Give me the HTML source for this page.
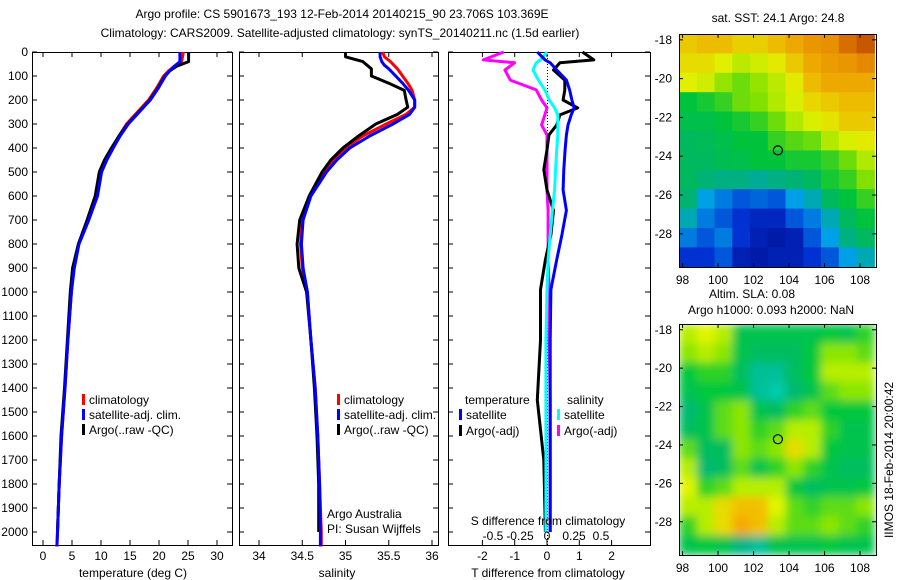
<!DOCTYPE html>
<html><head><meta charset="utf-8"><style>
body{margin:0;background:#fff}
svg{display:block;font-family:"Liberation Sans",sans-serif;font-size:12px}
</style></head><body>
<svg id="c" width="900" height="580" viewBox="0 0 900 580"></svg>
<script>
// ---- data ----
const depthTicks=[0,100,200,300,400,500,600,700,800,900,1000,1100,1200,1300,1400,1500,1600,1700,1800,1900,2000];
const tempTicks=[0,5,10,15,20,25,30];
const salTicks=[34,34.5,35,35.5,36];
const tdiffTicks=[-2,-1,0,1,2];
const sdiffTicks=[-0.5,-0.25,0,0.25,0.5];
const tDepth=[0,40,60,80,100,150,200,250,300,350,400,450,500,600,700,800,900,1000,1200,1400,1600,1800,2000,2060];
const tClim=[24.2,23.9,22.6,21.6,20.8,19.6,18.2,16.3,14.4,13.1,11.9,10.8,9.9,9.2,7.8,6.1,5.3,4.9,4.3,3.8,3.2,2.8,2.5,2.4];
const tSat=[23.6,23.6,22.6,21.8,21.1,19.9,18.5,16.6,14.7,13.3,12.1,11,10.1,9.4,7.9,6.2,5.4,4.9,4.3,3.8,3.2,2.8,2.5,2.4];
const tArgo=[25.1,25.1,23,21.8,21,19.8,18.4,16.5,14.6,13.1,11.8,10.6,9.7,9,7.6,6.1,5.1,4.7,4.2,3.7,3.1,2.8,2.5];
const sDepth=[0,20,40,55,70,100,130,160,200,230,260,300,350,400,450,500,600,700,800,900,1000,1200,1400,1600,1800,2000,2060];
const sClim=[35.43,35.45,35.52,35.56,35.6,35.66,35.72,35.77,35.8,35.8,35.7,35.47,35.2,35.0,34.86,34.75,34.58,34.5,34.48,34.5,34.56,34.6,34.65,34.68,34.7,34.72,34.72];
const sSat=[35.4,35.4,35.42,35.45,35.5,35.58,35.66,35.73,35.8,35.8,35.74,35.55,35.28,35.05,34.9,34.78,34.6,34.51,34.49,34.51,34.56,34.6,34.65,34.68,34.7,34.71,34.71];
const sArgo=[35.0,35.0,35.2,35.25,35.3,35.3,35.5,35.68,35.7,35.72,35.6,35.35,35.15,34.97,34.83,34.73,34.58,34.47,34.44,34.46,34.55,34.6,34.64,34.67,34.69,34.69];
const dDepth=[0,33,45,75,117,158,200,233,262,304,346,408,490,575,660,762,866,990,1200,1450,1700,2000];
const dTsat=[-0.3,-0.06,0.1,0.3,0.6,0.7,0.77,0.84,0.75,0.65,0.6,0.56,0.52,0.5,0.6,0.46,0.3,0.12,0.1,0.1,0.1,0.1];
const dTargo=[1.1,1.45,0.4,0.2,0.55,0.55,0.5,0.95,0.4,0.3,0.06,0,-0.1,0,0.2,0.12,-0.05,-0.2,-0.2,-0.3,-0.1,-0.05];
const dSsat=[0,-0.06,-0.1,-0.13,-0.08,-0.02,0.02,0.07,0.1,0.1,0.1,0.09,0.08,0.07,0.05,0.03,0.01,0,-0.01,-0.01,-0.01,-0.01];
const dSargo=[-0.4,-0.59,-0.3,-0.39,-0.34,-0.1,-0.05,0,-0.02,-0.05,0,0,0,0,0.01,0.01,0.01,0.02,0.02,0.03,0.03,0.03];
const sstGrid=[
[0.78,0.8,0.8,0.77,0.77,0.8,0.83,0.86,0.87,0.92,0.95],
[0.75,0.75,0.72,0.68,0.7,0.73,0.78,0.83,0.85,0.86,0.88],
[0.72,0.7,0.64,0.6,0.64,0.68,0.73,0.8,0.83,0.83,0.83],
[0.5,0.52,0.55,0.6,0.62,0.67,0.71,0.76,0.78,0.8,0.8],
[0.48,0.48,0.5,0.52,0.55,0.6,0.67,0.71,0.74,0.78,0.78],
[0.45,0.46,0.48,0.5,0.5,0.55,0.58,0.6,0.67,0.71,0.73],
[0.45,0.45,0.47,0.48,0.5,0.5,0.52,0.52,0.55,0.6,0.67],
[0.45,0.42,0.4,0.4,0.38,0.4,0.42,0.45,0.52,0.55,0.62],
[0.42,0.3,0.25,0.2,0.22,0.2,0.3,0.35,0.45,0.5,0.55],
[0.35,0.25,0.2,0.15,0.12,0.12,0.2,0.25,0.35,0.45,0.5],
[0.25,0.2,0.25,0.15,0.1,0.08,0.1,0.2,0.3,0.4,0.45],
[0.15,0.15,0.2,0.1,0.08,0.1,0.1,0.15,0.2,0.3,0.35]];
const slaGrid=[
[0.6,0.65,0.6,0.35,0.35,0.35,0.35,0.35,0.4,0.35,0.45],
[0.55,0.6,0.55,0.35,0.3,0.3,0.3,0.4,0.55,0.55,0.5],
[0.4,0.45,0.45,0.3,0.15,0.15,0.3,0.4,0.6,0.6,0.6],
[0.35,0.4,0.4,0.35,0.15,0.1,0.25,0.35,0.5,0.55,0.55],
[0.25,0.35,0.5,0.55,0.35,0.3,0.45,0.5,0.4,0.4,0.4],
[0.3,0.35,0.5,0.55,0.45,0.5,0.6,0.6,0.45,0.35,0.35],
[0.5,0.3,0.3,0.55,0.5,0.55,0.7,0.6,0.4,0.35,0.35],
[0.6,0.25,0.3,0.5,0.35,0.45,0.55,0.45,0.35,0.3,0.3],
[0.65,0.45,0.5,0.6,0.6,0.6,0.4,0.3,0.35,0.35,0.4],
[0.6,0.6,0.7,0.75,0.75,0.65,0.5,0.45,0.5,0.5,0.55],
[0.45,0.6,0.7,0.8,0.75,0.6,0.5,0.5,0.55,0.5,0.45],
[0.35,0.4,0.35,0.2,0.15,0.35,0.35,0.35,0.4,0.35,0.35]];
const lonTicks=[98,100,102,104,106,108];
const latTicks=[-18,-20,-22,-24,-26,-28];
const argoLon=103.37, argoLat=-23.7;

// ---- scales ----
const yD=d=>52+d*0.24;
const xT=t=>43+t*5.8;
const xS=s=>259+(s-34)*86.5;
const xDT=t=>547+t*32.3;
const xDS=s=>547+s*108;
const xLon=l=>679+(l-97.8)*17.75;
const yLat1=l=>34+(-17.7-l)*19.4;
const yLat2=l=>324+(-17.7-l)*19.2;

const svg=document.getElementById('c');
const NS='http://www.w3.org/2000/svg';
function el(tag,attrs,parent){const e=document.createElementNS(NS,tag);for(const k in attrs)e.setAttribute(k,attrs[k]);(parent||svg).appendChild(e);return e;}
function txt(x,y,s,anchor,parent){const t=el('text',{x:x,y:y,'text-anchor':anchor||'start'},parent);t.textContent=s;return t;}

// titles
let t=txt(342,18,'Argo profile: CS 5901673_193 12-Feb-2014 20140215_90 23.706S 103.369E','middle');


t=txt(340,37,'Climatology: CARS2009. Satellite-adjusted climatology: synTS_20140211.nc (1.5d earlier)','middle');



function panel(x0,x1,name,ticks,fx){
  const g=el('g',{});
  
  
  el('rect',{x:x0+0.5,y:52.5,width:x1-x0,height:493,fill:'none',stroke:'#000','stroke-width':1},g);
  depthTicks.forEach(d=>{const y=yD(d);el('line',{x1:x0,x2:x0+5,y1:y,y2:y,stroke:'#000'},g);el('line',{x1:x1-5,x2:x1,y1:y,y2:y,stroke:'#000'},g);});
  ticks.forEach(v=>{const x=fx(v);el('line',{x1:x,x2:x,y1:52,y2:57,stroke:'#000'},g);el('line',{x1:x,x2:x,y1:540,y2:545,stroke:'#000'},g);});
  return g;
}
function prof(g,vals,depths,fx,color,name,w){
  let d='';vals.forEach((v,i)=>{d+=(i?'L':'M')+fx(v).toFixed(1)+','+yD(depths[i]).toFixed(1);});
  const p=el('path',{d:d,fill:'none',stroke:color,'stroke-width':w||3,'stroke-linejoin':'round'},g);
  
  
}
// depth labels
const dl=el('g',{});


depthTicks.forEach(d=>txt(28,yD(d)+4,String(d),'end',dl));

// panel 1 temperature
const g1=panel(32,232,'temperature-panel',tempTicks,xT);
prof(g1,tClim,tDepth,xT,'#f00','temp-climatology-line');
prof(g1,tArgo,tDepth,xT,'#000','temp-argo-line');
prof(g1,tSat,tDepth,xT,'#00f','temp-satellite-line');
tempTicks.forEach(v=>txt(xT(v),560,String(v),'middle',g1));
txt(133,577,'temperature (deg C)','middle',g1);
function leg(g,x,y,color,label,nm){
  const r=el('rect',{x:x,y:y-10,width:3,height:11,fill:color},g);
  
  
  txt(x+7,y,label,'start',g);
}
leg(g1,82,404,'#f00','climatology','legend-climatology');
leg(g1,82,419,'#00f','satellite-adj. clim.','legend-satellite');
leg(g1,82,434,'#000','Argo(..raw -QC)','legend-argo');

// panel 2 salinity
const g2=panel(239,438,'salinity-panel',salTicks,xS);
prof(g2,sClim,sDepth,xS,'#f00','sal-climatology-line');
prof(g2,sArgo,sDepth,xS,'#000','sal-argo-line');
prof(g2,sSat,sDepth,xS,'#00f','sal-satellite-line');
salTicks.forEach(v=>txt(xS(v),560,String(v),'middle',g2));
txt(337,577,'salinity','middle',g2);
leg(g2,337,404,'#f00','climatology','legend2-climatology');
leg(g2,337,419,'#00f','satellite-adj. clim.','legend2-satellite');
leg(g2,337,434,'#000','Argo(..raw -QC)','legend2-argo');
txt(327,518,'Argo Australia','start',g2);
txt(327,533,'PI: Susan Wijffels','start',g2);

// panel 3 differences
const g3=panel(448,650,'difference-panel',tdiffTicks,xDT);
el('line',{x1:547.5,x2:547.5,y1:52,y2:545,stroke:'#000','stroke-dasharray':'1,2'},g3);
prof(g3,dSargo,dDepth,xDS,'#f0f','sdiff-argo-line');
prof(g3,dTargo,dDepth,xDT,'#000','tdiff-argo-line');
prof(g3,dSsat,dDepth,xDS,'#0ff','sdiff-satellite-line');
prof(g3,dTsat,dDepth,xDT,'#00f','tdiff-satellite-line');
tdiffTicks.forEach(v=>txt(xDT(v),560,String(v),'middle',g3));
sdiffTicks.forEach(v=>txt(xDS(v),540,String(v),'middle',g3));
txt(548,525,'S difference from climatology','middle',g3);
txt(548,577,'T difference from climatology','middle',g3);
txt(465,404,'temperature','start',g3);
txt(567,404,'salinity','start',g3);
leg(g3,459,419,'#00f','satellite','legend3-tsat');
leg(g3,459,435,'#000','Argo(-adj)','legend3-targo');
leg(g3,557,419,'#0ff','satellite','legend3-ssat');
leg(g3,557,435,'#f0f','Argo(-adj)','legend3-sargo');

// colormaps
function lerpC(stops,v){v=Math.max(0,Math.min(1,v));for(let i=1;i<stops.length;i++){if(v<=stops[i][0]){const a=stops[i-1],b=stops[i],f=(v-a[0])/(b[0]-a[0]);return 'rgb('+[0,1,2].map(k=>Math.round(a[1][k]+(b[1][k]-a[1][k])*f)).join(',')+')';}}return 'rgb('+stops[stops.length-1][1].join(',')+')';}
const sstStops=[[0,[0,0,120]],[0.15,[0,50,210]],[0.3,[0,160,230]],[0.4,[0,175,130]],[0.5,[0,195,60]],[0.62,[130,225,0]],[0.72,[225,240,0]],[0.82,[240,175,0]],[0.9,[225,125,0]],[1,[175,50,0]]];
const slaStops=[[0,[0,225,210]],[0.2,[0,180,130]],[0.4,[0,200,60]],[0.55,[140,230,0]],[0.65,[225,245,0]],[0.77,[245,180,0]],[0.87,[245,145,0]],[1,[230,100,0]]];

el('defs',{}).innerHTML='<clipPath id="cp2"><rect x="679" y="324" width="197" height="231"/></clipPath><filter id="bl" x="-0.1" y="-0.1" width="1.2" height="1.2"><feGaussianBlur stdDeviation="4.5" edgeMode="duplicate"/></filter>';

function map(grid,stops,yLat,top,bot,name,blur){
  const g=el('g',{});
  
  
  const cells=el('g',blur?{filter:'url(#bl)'}:{},blur?el('g',{'clip-path':'url(#cp2)'},g):g);
  grid.forEach((row,r)=>row.forEach((v,c)=>{
    const x0=xLon(97.8+c),x1=xLon(98.8+c),y0=yLat(-17.7-r),y1=yLat(-18.7-r);
    const rc=el('rect',{x:x0.toFixed(1),y:y0.toFixed(1),width:(x1-x0+0.6).toFixed(1),height:(y1-y0+0.6).toFixed(1),fill:lerpC(stops,v)},cells);
    
    
  }));
  el('rect',{x:679.5,y:top+0.5,width:197,height:bot-top,fill:'none',stroke:'#000'},g);
  lonTicks.forEach(l=>{const x=xLon(l);el('line',{x1:x,x2:x,y1:top,y2:top+4,stroke:'#000'},g);el('line',{x1:x,x2:x,y1:bot-4,y2:bot,stroke:'#000'},g);txt(x,bot+17,String(l),'middle',g);});
  latTicks.forEach(l=>{const y=yLat(l);el('line',{x1:679,x2:683,y1:y,y2:y,stroke:'#000'},g);el('line',{x1:872,x2:876,y1:y,y2:y,stroke:'#000'},g);txt(672,y+4,String(l),'end',g);});
  const m=el('circle',{cx:xLon(argoLon),cy:yLat(argoLat),r:4.5,fill:'none',stroke:'#000','stroke-width':1.2},g);
  
  
  return g;
}
map(sstGrid,sstStops,yLat1,34,267,'sst-map',false);
map(slaGrid,slaStops,yLat2,324,555,'sla-map',true);
txt(778,22,'sat. SST: 24.1  Argo: 24.8','middle');
txt(752,298,'Altim. SLA: 0.08','middle');
txt(771,314,'Argo h1000: 0.093 h2000: NaN','middle');
const im=txt(0,0,'IIMOS 18-Feb-2014 20:00:42','middle');
im.setAttribute('transform','translate(893,460) rotate(-90)');


</script>
</body></html>
